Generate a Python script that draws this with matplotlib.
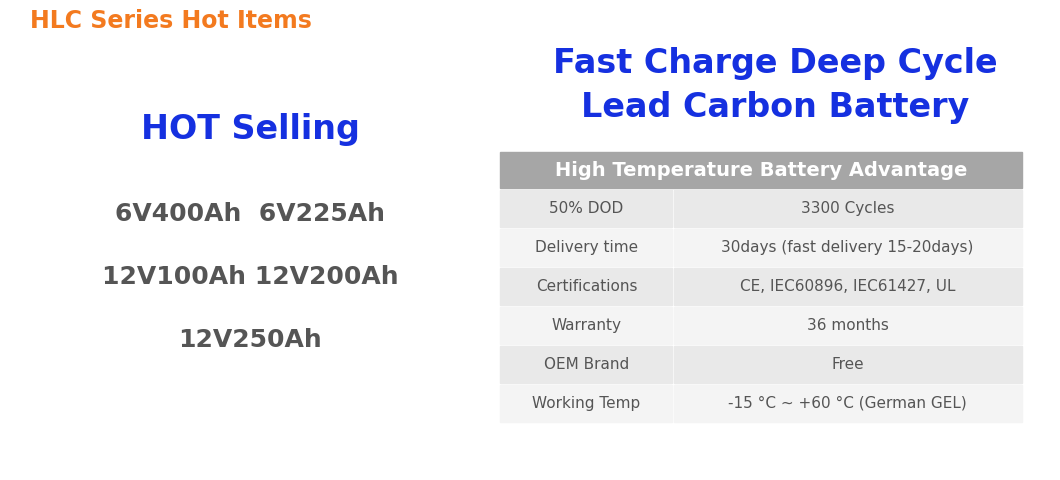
import matplotlib.pyplot as plt
from matplotlib.patches import Rectangle

header = 'High Temperature Battery Advantage'
labels = ['50% DOD', 'Delivery time', 'Certifications', 'Warranty', 'OEM Brand', 'Working Temp']
values = ['3300 Cycles', '30days (fast delivery 15-20days)', 'CE, IEC60896, IEC61427, UL',
          '36 months', 'Free', '-15 °C ~ +60 °C (German GEL)']
models = ['6V400Ah  6V225Ah', '12V100Ah 12V200Ah', '12V250Ah']

fig = plt.figure(figsize=(10.6, 4.8), dpi=100)
ax = fig.add_axes([0, 0, 1, 1])
ax.set_xlim(0, 1060)
ax.set_ylim(480, 0)
ax.axis('off')

blue = '#1530e0'
grey = '#555555'

ax.text(30, 21, 'HLC Series Hot Items', color='#f37a1f', fontsize=17, fontweight='bold', va='center')
ax.text(250, 130, 'HOT Selling', color=blue, fontsize=24, fontweight='bold', ha='center', va='center')
for i, m in enumerate(models):
    ax.text(250, 214 + i * 63, m, color=grey, fontsize=18, fontweight='bold', ha='center', va='center')

ax.text(775, 64, 'Fast Charge Deep Cycle', color=blue, fontsize=24, fontweight='bold', ha='center', va='center')
ax.text(775, 107, 'Lead Carbon Battery', color=blue, fontsize=24, fontweight='bold', ha='center', va='center')

x0, x1, xs = 500, 1022, 673
ax.add_patch(Rectangle((x0, 152), x1 - x0, 36, color='#a6a6a6'))
ax.text((x0 + x1) / 2, 171, header, color='white', fontsize=14, fontweight='bold', ha='center', va='center')
rh = 39
for i, (l, v) in enumerate(zip(labels, values)):
    y = 190 + i * rh
    c = '#e9e9e9' if i % 2 == 0 else '#f4f4f4'
    ax.add_patch(Rectangle((x0, y), xs - x0 - 1, rh - 2, color=c))
    ax.add_patch(Rectangle((xs + 1, y), x1 - xs - 1, rh - 2, color=c))
    ax.text((x0 + xs) / 2, y + rh / 2 - 1, l, color=grey, fontsize=11, ha='center', va='center')
    ax.text((xs + x1) / 2, y + rh / 2 - 1, v, color=grey, fontsize=11, ha='center', va='center')

fig.savefig('out.png', dpi=100, facecolor='white')
